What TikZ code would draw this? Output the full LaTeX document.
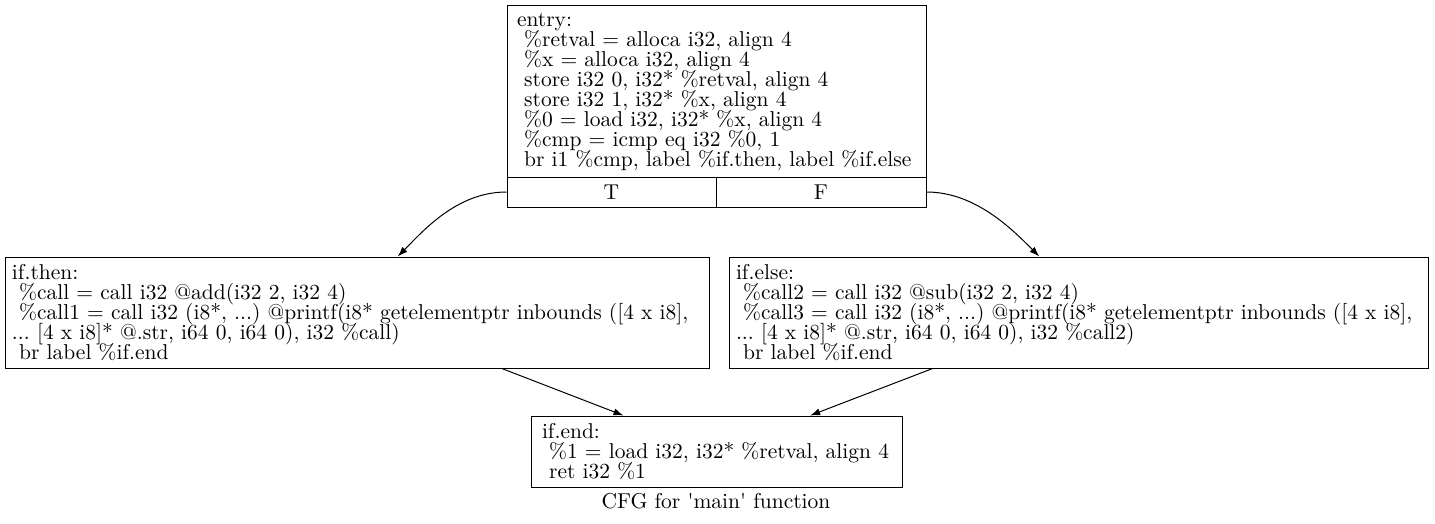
\documentclass[tikz,border=0pt]{standalone}
\usetikzlibrary{arrows.meta}
\font\cfgfont="[lmroman10-regular.otf]" at 21.5pt
\newcommand\cfgtext{\fontsize{21.5}{20}\selectfont\cfgfont\frenchspacing\lineskiplimit=-20pt\relax}

\begin{document}
\begin{tikzpicture}[x=1pt,y=-1pt,line width=1pt,font=\cfgtext]
        \useasboundingbox (0,0) rectangle (1435,524);
        \tikzset{bloc/.style={draw,align=left,inner ysep=0pt}}
        \tikzset{fleche/.style={-{Latex[length=10pt,width=7pt]}}}
        \node[bloc,minimum width=419,minimum height=171,text width=399,inner xsep=10] (entry) at (716.5,91.5)
          {entry:\\\ \%retval = alloca i32, align 4\\\ \%x = alloca i32, align 4\\\ store i32 0, i32* \%retval, align 4\\\ store i32 1, i32* \%x, align 4\\\ \%0 = load i32, i32* \%x, align 4\\\ \%cmp = icmp eq i32 \%0, 1\\\ br i1 \%cmp, label \%if.then, label \%if.else};
        \node[draw,minimum width=209,minimum height=30] (entryT) at (611.5,192) {T};
        \node[draw,minimum width=210,minimum height=30] (entryF) at (821,192) {F};
        \node[bloc,minimum width=704,minimum height=111,text width=690,inner xsep=7] (ifthen) at (357,312.5)
          {if.then:\\\ \%call = call i32 @add(i32 2, i32 4)\\\ \%call1 = call i32 (i8*, ...) @printf(i8* getelementptr inbounds ([4 x i8],\\... [4 x i8]* @.str, i64 0, i64 0), i32 \%call)\\\ br label \%if.end};
        \node[bloc,minimum width=699,minimum height=111,text width=685,inner xsep=7] (ifelse) at (1078.5,312.5)
          {if.else:\\\ \%call2 = call i32 @sub(i32 2, i32 4)\\\ \%call3 = call i32 (i8*, ...) @printf(i8* getelementptr inbounds ([4 x i8],\\... [4 x i8]* @.str, i64 0, i64 0), i32 \%call2)\\\ br label \%if.end};
        \node[bloc,minimum width=371,minimum height=71,text width=349,inner xsep=11] (ifend) at (716.5,451.5)
          {if.end:\\\ \%1 = load i32, i32* \%retval, align 4\\\ ret i32 \%1};
        \node (caption) at (716,501) {CFG for 'main' function};
        \draw[fleche] (entryT.west) .. controls +(-50,0) and +(25,-25) .. (ifthen.54);
        \draw[fleche] (entryF.east) .. controls +(50,0) and +(-25,-25) .. (ifelse.125);
        \draw[fleche] (ifthen) -- (ifend);
        \draw[fleche] (ifelse) -- (ifend);
\end{tikzpicture}
\end{document}
